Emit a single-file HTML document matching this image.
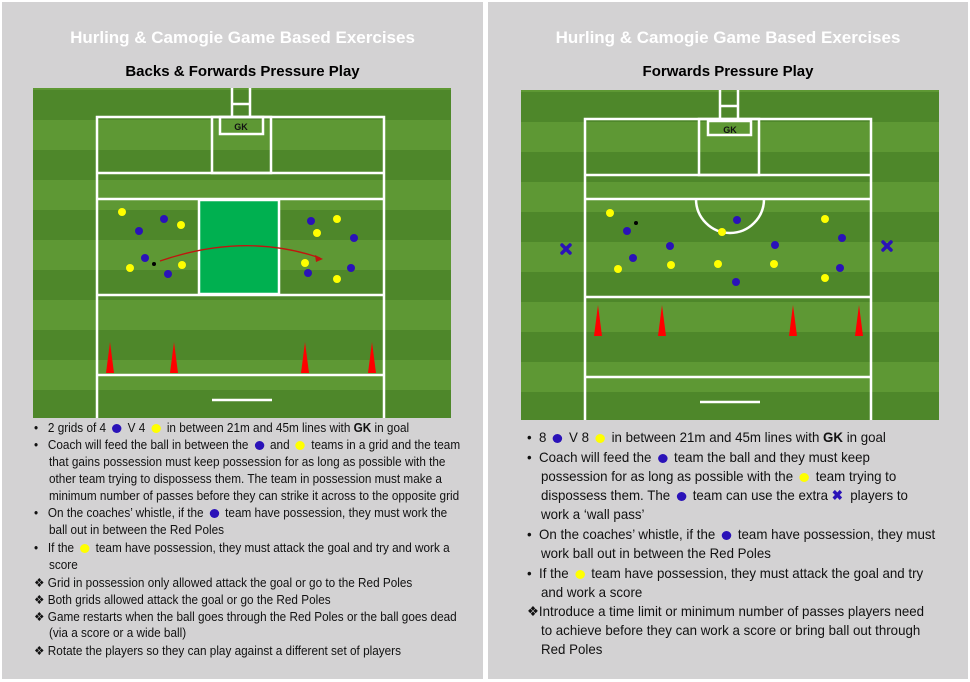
<!DOCTYPE html>
<html><head><meta charset="utf-8"><style>
body{margin:0;width:970px;height:682px;background:#fff;position:relative;overflow:hidden;font-family:"Liberation Sans",sans-serif}
.panel{position:absolute;top:2px;height:677px;background:#d3d2d3}
.t1{position:absolute;color:#fff;font-weight:bold;font-size:17px;white-space:nowrap;text-align:center}
.t2{position:absolute;color:#000;font-weight:bold;font-size:15px;white-space:nowrap;text-align:center}
.ln{position:absolute;white-space:nowrap;color:#111;transform-origin:0 0}
.L{font-size:12.5px;transform:scaleX(0.94)}
.R{font-size:14px;transform:scaleX(0.95)}
.b{display:inline-block;width:10px;height:9px;border-radius:50%;vertical-align:-1px;margin:0 3px}
.bl{background:#2a12b8}.ye{background:#ffff00}
svg{position:absolute}
</style></head><body>
<div class="panel" style="left:2px;width:481px"></div>
<div class="panel" style="left:488px;width:480px"></div>
<div class="t1" style="left:2px;width:481px;top:28px">Hurling &amp; Camogie Game Based Exercises</div>
<div class="t2" style="left:2px;width:481px;top:63px">Backs &amp; Forwards Pressure Play</div>
<div class="t1" style="left:488px;width:480px;top:28px">Hurling &amp; Camogie Game Based Exercises</div>
<div class="t2" style="left:488px;width:480px;top:63px">Forwards Pressure Play</div>

<svg width="970" height="682" style="left:0;top:0">
<defs>
<pattern id="st" x="0" y="0" width="60" height="60" patternUnits="userSpaceOnUse">
<rect width="60" height="30" fill="#5e9834"/><rect y="30" width="60" height="30" fill="#4e872a"/></pattern>
<pattern id="st2" x="0" y="2" width="60" height="60" patternUnits="userSpaceOnUse">
<rect width="60" height="30" fill="#5e9834"/><rect y="30" width="60" height="30" fill="#4e872a"/></pattern>
</defs>
<rect x="33" y="88" width="418" height="330" fill="url(#st)"/>
<g stroke="#fff" stroke-width="2.5" fill="none">
<path d="M97 418V117H384V418"/>
<path d="M232 88V117M250 88V117M232 104H250"/>
<rect x="220" y="117" width="43" height="17"/>
<rect x="212" y="117" width="59" height="56"/>
<path d="M97 173H384M97 199H384M97 295H384M97 375H384M212 400H272"/>
</g>
<rect x="199" y="200" width="80" height="94" fill="#00b050" stroke="#fff" stroke-width="2.5"/>
<text x="241" y="130" font-size="9" font-weight="bold" text-anchor="middle" fill="#111">GK</text>
<g fill="#f00"><path d="M106 373L110 342L114 373Z"/><path d="M170 373L174 342L178 373Z"/><path d="M301 373L305 342L309 373Z"/><path d="M368 373L372 342L376 373Z"/></g>
<path d="M160 261Q245 232 320 258" stroke="#c0150f" stroke-width="1.3" fill="none"/>
<path d="M323 259L315 255L316 262Z" fill="#c0150f"/>
<g fill="#ffff00"><circle cx="122" cy="212" r="4"/><circle cx="181" cy="225" r="4"/><circle cx="130" cy="268" r="4"/><circle cx="182" cy="265" r="4"/><circle cx="337" cy="219" r="4"/><circle cx="317" cy="233" r="4"/><circle cx="305" cy="263" r="4"/><circle cx="337" cy="279" r="4"/></g>
<g fill="#2a12b8"><circle cx="164" cy="219" r="4"/><circle cx="139" cy="231" r="4"/><circle cx="145" cy="258" r="4"/><circle cx="168" cy="274" r="4"/><circle cx="311" cy="221" r="4"/><circle cx="354" cy="238" r="4"/><circle cx="308" cy="273" r="4"/><circle cx="351" cy="268" r="4"/></g>
<circle cx="154" cy="264" r="2" fill="#000"/>
<rect x="521" y="90" width="418" height="330" fill="url(#st2)"/>
<g stroke="#fff" stroke-width="2.5" fill="none">
<path d="M585 420V119H871V420"/>
<path d="M720 90V119M738 90V119M720 106H738"/>
<rect x="708" y="121" width="43" height="14"/>
<rect x="699" y="119" width="60" height="56"/>
<path d="M585 175H871M585 199H871M585 297H871M585 377H871M700 402H760"/>
<path d="M696 199A34 34 0 0 0 764 199"/>
</g>
<text x="730" y="133" font-size="9" font-weight="bold" text-anchor="middle" fill="#111">GK</text>
<g fill="#f00"><path d="M594 336L598 305L602 336Z"/><path d="M658 336L662 305L666 336Z"/><path d="M789 336L793 305L797 336Z"/><path d="M855 336L859 305L863 336Z"/></g>
<g fill="#ffff00"><circle cx="610" cy="213" r="4"/><circle cx="722" cy="232" r="4"/><circle cx="671" cy="265" r="4"/><circle cx="718" cy="264" r="4"/><circle cx="774" cy="264" r="4"/><circle cx="825" cy="219" r="4"/><circle cx="825" cy="278" r="4"/><circle cx="618" cy="269" r="4"/></g>
<g fill="#2a12b8"><circle cx="627" cy="231" r="4"/><circle cx="633" cy="258" r="4"/><circle cx="670" cy="246" r="4"/><circle cx="737" cy="220" r="4"/><circle cx="736" cy="282" r="4"/><circle cx="775" cy="245" r="4"/><circle cx="842" cy="238" r="4"/><circle cx="840" cy="268" r="4"/></g>
<circle cx="636" cy="223" r="2" fill="#000"/>
<g stroke="#2a12b8" stroke-width="3.5" stroke-linecap="round"><path d="M562 245L570 253M570 245L562 253M883 242L891 250M891 242L883 250"/></g>
</svg>

<div class="ln L" style="left:34px;top:421px">•&nbsp;&nbsp; 2 grids of 4 <span class="b bl"></span> V 4 <span class="b ye"></span> in between 21m and 45m lines with <b>GK</b> in goal</div>
<div class="ln L" style="left:34px;top:438px">•&nbsp;&nbsp; Coach will feed the ball in between the <span class="b bl"></span> and <span class="b ye"></span> teams in a grid and the team</div>
<div class="ln L" style="left:49px;top:455px">that gains possession must keep possession for as long as possible with the</div>
<div class="ln L" style="left:49px;top:472px">other team trying to dispossess them. The team in possession must make a</div>
<div class="ln L" style="left:49px;top:489px">minimum number of passes before they can strike it across to the opposite grid</div>
<div class="ln L" style="left:34px;top:506px">•&nbsp;&nbsp; On the coaches’ whistle, if the <span class="b bl"></span> team have possession, they must work the</div>
<div class="ln L" style="left:49px;top:523px">ball out in between the Red Poles</div>
<div class="ln L" style="left:34px;top:541px">•&nbsp;&nbsp; If the <span class="b ye"></span> team have possession, they must attack the goal and try and work a</div>
<div class="ln L" style="left:49px;top:558px">score</div>
<div class="ln L" style="left:34px;top:575px">❖ Grid in possession only allowed attack the goal or go to the Red Poles</div>
<div class="ln L" style="left:34px;top:592px">❖ Both grids allowed attack the goal or go the Red Poles</div>
<div class="ln L" style="left:34px;top:609px">❖ Game restarts when the ball goes through the Red Poles or the ball goes dead</div>
<div class="ln L" style="left:49px;top:626px">(via a score or a wide ball)</div>
<div class="ln L" style="left:34px;top:643px">❖ Rotate the players so they can play against a different set of players</div>

<div class="ln R" style="left:527px;top:429px">•&nbsp; 8 <span class="b bl"></span> V 8 <span class="b ye"></span> in between 21m and 45m lines with <b>GK</b> in goal</div>
<div class="ln R" style="left:527px;top:449px">•&nbsp; Coach will feed the <span class="b bl"></span> team the ball and they must keep</div>
<div class="ln R" style="left:541px;top:468px">possession for as long as possible with the <span class="b ye"></span> team trying to</div>
<div class="ln R" style="left:541px;top:487px">dispossess them. The <span class="b bl"></span> team can use the extra <span style="color:#2a12b8;font-weight:bold">✖</span>&nbsp; players to</div>
<div class="ln R" style="left:541px;top:506px">work a ‘wall pass’</div>
<div class="ln R" style="left:527px;top:526px">•&nbsp; On the coaches’ whistle, if the <span class="b bl"></span> team have possession, they must</div>
<div class="ln R" style="left:541px;top:545px">work ball out in between the Red Poles</div>
<div class="ln R" style="left:527px;top:565px">•&nbsp; If the <span class="b ye"></span> team have possession, they must attack the goal and try</div>
<div class="ln R" style="left:541px;top:584px">and work a score</div>
<div class="ln R" style="left:527px;top:603px">❖Introduce a time limit or minimum number of passes players need</div>
<div class="ln R" style="left:541px;top:622px">to achieve before they can work a score or bring ball out through</div>
<div class="ln R" style="left:541px;top:641px">Red Poles</div>
</body></html>
